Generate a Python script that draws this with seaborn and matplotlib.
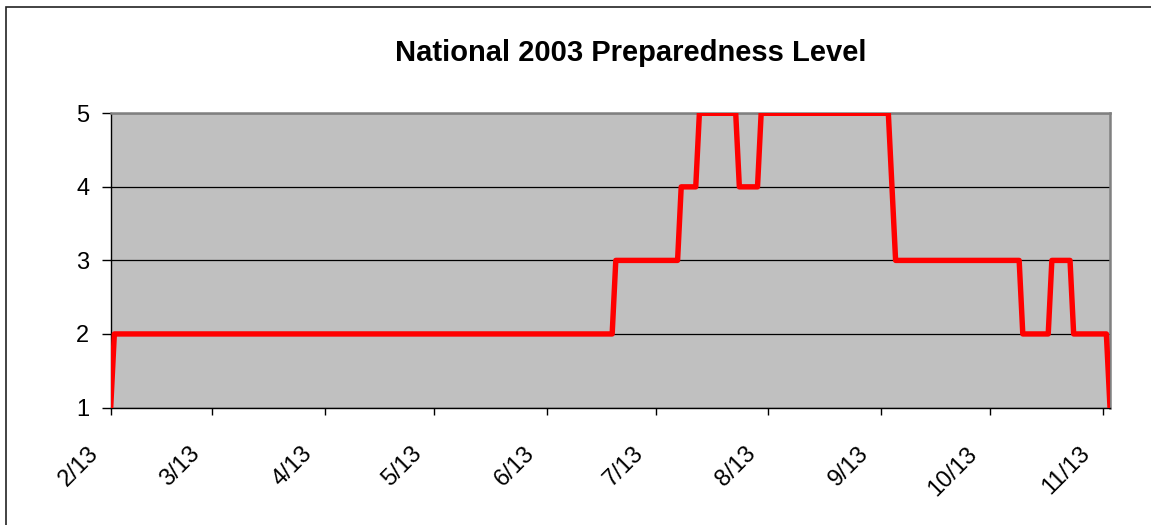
import pandas as pd
import seaborn as sns
import matplotlib.pyplot as plt
import matplotlib.patches as patches
from matplotlib.transforms import ScaledTranslation

# change points of the 2003 national preparedness level
dates = ['2003-02-13', '2003-02-14', '2003-07-01', '2003-07-02', '2003-07-19',
         '2003-07-20', '2003-07-24', '2003-07-25', '2003-08-04', '2003-08-05',
         '2003-08-10', '2003-08-11', '2003-09-15', '2003-09-16', '2003-09-17',
         '2003-10-21', '2003-10-22', '2003-10-29', '2003-10-30', '2003-11-04',
         '2003-11-05', '2003-11-14', '2003-11-15']
levels = [1, 2, 2, 3, 3,
          4, 4, 5, 5, 4,
          4, 5, 5, 4, 3,
          3, 2, 2, 3, 3,
          2, 2, 1]
tick_dates = ['2003-02-13', '2003-03-13', '2003-04-13', '2003-05-13', '2003-06-13',
              '2003-07-13', '2003-08-13', '2003-09-13', '2003-10-13', '2003-11-13']
tick_labels = ['2/13', '3/13', '4/13', '5/13', '6/13', '7/13', '8/13', '9/13', '10/13', '11/13']

df = pd.DataFrame({'date': pd.to_datetime(dates), 'level': levels})

plt.rcParams['font.family'] = ['Liberation Sans', 'DejaVu Sans']

fig = plt.figure(figsize=(11.51, 5.25), dpi=100)
ax = fig.add_axes([110.7 / 1151, 1 - 407.5 / 525, (1110 - 110.7) / 1151, (407.5 - 113.3) / 525])
ax.set_facecolor('#C0C0C0')

sns.lineplot(data=df, x='date', y='level', ax=ax, color='#FF0000', linewidth=3.9,
             sort=False, estimator=None, zorder=3)

ax.set_xlim(pd.Timestamp('2003-02-13'), pd.Timestamp('2003-11-15'))
ax.set_ylim(1, 5)
ax.set_yticks([1, 2, 3, 4, 5])
ax.set_yticklabels(['1', '2', '3', '4', '5'], fontsize=17)
ax.set_xticks(pd.to_datetime(tick_dates))
ax.set_xticklabels(tick_labels, fontsize=17, rotation=45, ha='right', va='center',
                   rotation_mode='anchor')
ax.tick_params(axis='x', length=5, width=1, color='black', pad=26)
ax.tick_params(axis='y', length=6.5, width=1, color='black', pad=9)
for lbl in ax.get_xticklabels():
    lbl.set_transform(lbl.get_transform() + ScaledTranslation(-0.16, 0, fig.dpi_scale_trans))
ax.grid(axis='y', color='black', linewidth=0.9)
ax.grid(axis='x', visible=False)
ax.set_axisbelow(True)
ax.set_xlabel('')
ax.set_ylabel('')

for side in ['top', 'right']:
    ax.spines[side].set_color('#808080')
    ax.spines[side].set_linewidth(1.8)
for side in ['left', 'bottom']:
    ax.spines[side].set_color('black')
    ax.spines[side].set_linewidth(1.0)

fig.text(631 / 1151, 1 - 61 / 525, 'National 2003 Preparedness Level', ha='center',
         va='baseline', fontsize=21, fontweight='bold')

# chart border, cut off on the right and bottom
fig.patches.append(patches.Rectangle((6 / 1151, -0.1), 1.2, 1.1 - 7 / 525, fill=False,
                                     edgecolor='#222222', linewidth=1.2,
                                     transform=fig.transFigure))

fig.savefig('out.png', dpi=100)
